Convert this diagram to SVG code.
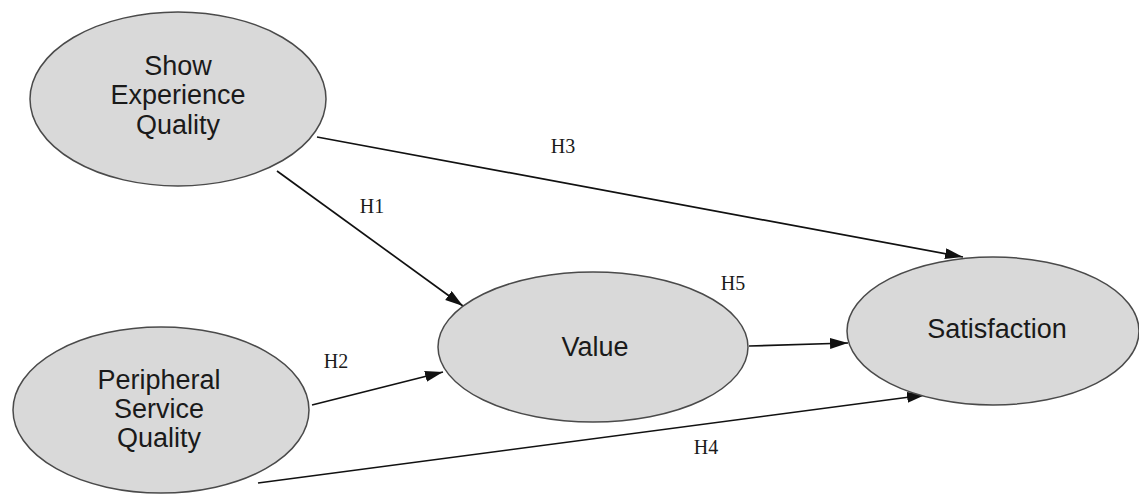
<svg xmlns="http://www.w3.org/2000/svg" width="1139" height="494" viewBox="0 0 1139 494">
<style>
.node ellipse{fill:#d9d9d9;stroke:#4a4a4a;stroke-width:1.5}
.node text{font-family:"Liberation Sans",Arial,sans-serif;font-size:27px;fill:#1a1a1a;text-anchor:middle}
.edge line{stroke:#111;stroke-width:1.7;marker-end:url(#arr)}
.lbl{font-family:"Liberation Serif","Times New Roman",serif;font-size:20px;fill:#1a1a1a;text-anchor:middle}
</style>
<defs>
<marker id="arr" markerUnits="userSpaceOnUse" markerWidth="20" markerHeight="14" refX="18" refY="5.5" orient="auto">
<path d="M0,0 L18,5.5 L0,11 z" fill="#111"/>
</marker>
</defs>
<rect width="1139" height="494" fill="#fff"/>
<g id="connectors" class="edge">
<line x1="277" y1="171" x2="463" y2="306"/>
<line x1="317" y1="137" x2="963" y2="257"/>
<line x1="312" y1="405" x2="443" y2="372"/>
<line x1="258" y1="483" x2="925" y2="395"/>
<line x1="749" y1="346" x2="848" y2="343"/>
<text class="lbl" x="372" y="213">H1</text>
<text class="lbl" x="336" y="368">H2</text>
<text class="lbl" x="563" y="153">H3</text>
<text class="lbl" x="706" y="454">H4</text>
<text class="lbl" x="733" y="290">H5</text>
</g>
<g id="show-experience-quality" class="node">
<ellipse cx="178" cy="99" rx="148" ry="87"/>
<text x="178" y="75">Show</text>
<text x="178" y="104">Experience</text>
<text x="178" y="134">Quality</text>
</g>
<g id="peripheral-service-quality" class="node">
<ellipse cx="161" cy="410" rx="148" ry="83"/>
<text x="159" y="389">Peripheral</text>
<text x="159" y="418">Service</text>
<text x="159" y="447">Quality</text>
</g>
<g id="value" class="node">
<ellipse cx="593" cy="347" rx="155" ry="75"/>
<text x="595" y="356">Value</text>
</g>
<g id="satisfaction" class="node">
<ellipse cx="993" cy="331" rx="146" ry="74"/>
<text x="997" y="338">Satisfaction</text>
</g>
</svg>
